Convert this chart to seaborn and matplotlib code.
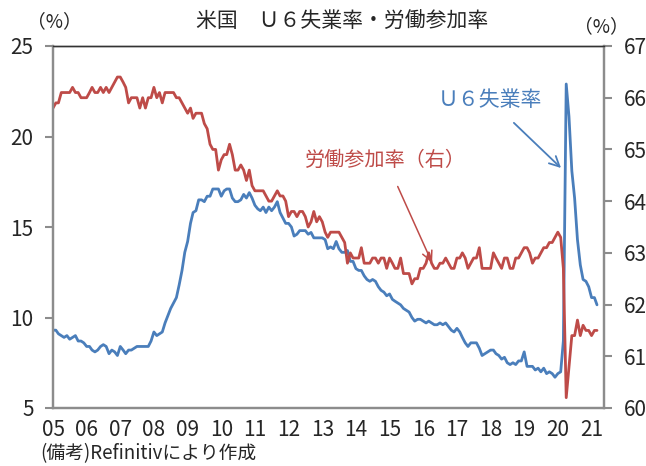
import matplotlib
matplotlib.use("Agg")
import matplotlib.pyplot as plt
import seaborn as sns
import numpy as np
import pandas as pd

# U6 unemployment rate (%), monthly from 2005-01, left axis
u6 = [9.3, 9.3, 9.1, 9.0, 8.9, 9.0, 8.8, 8.9, 9.0, 8.7, 8.7, 8.6,
      8.4, 8.4, 8.2, 8.1, 8.2, 8.4, 8.5, 8.4, 8.0, 8.2, 8.1, 7.9,
      8.4, 8.2, 8.0, 8.2, 8.2, 8.3, 8.4, 8.4, 8.4, 8.4, 8.4, 8.7,
      9.2, 9.0, 9.1, 9.2, 9.7, 10.1, 10.5, 10.8, 11.1, 11.8, 12.6, 13.6,
      14.2, 15.2, 15.8, 15.9, 16.5, 16.5, 16.4, 16.7, 16.7, 17.1, 17.1, 17.1,
      16.7, 17.0, 17.1, 17.1, 16.6, 16.4, 16.4, 16.5, 16.8, 16.6, 16.9, 16.6,
      16.2, 16.0, 15.9, 16.1, 15.8, 16.1, 15.9, 16.1, 16.4, 15.8, 15.5, 15.2,
      15.2, 15.0, 14.5, 14.6, 14.8, 14.8, 14.8, 14.6, 14.7, 14.4, 14.4, 14.4,
      14.4, 14.3, 13.8, 13.9, 13.8, 14.2, 13.8, 13.6, 13.6, 13.7, 13.1, 13.1,
      12.7, 12.6, 12.6, 12.3, 12.1, 12.0, 12.1, 12.0, 11.7, 11.5, 11.4, 11.2,
      11.3, 11.0, 10.9, 10.8, 10.7, 10.5, 10.4, 10.3, 10.0, 9.8, 9.9, 9.9,
      9.8, 9.7, 9.8, 9.7, 9.6, 9.6, 9.7, 9.6, 9.7, 9.5, 9.3, 9.2,
      9.4, 9.2, 8.9, 8.6, 8.4, 8.6, 8.6, 8.6, 8.3, 7.9, 8.0, 8.1,
      8.2, 8.2, 8.0, 7.9, 7.7, 7.8, 7.5, 7.4, 7.5, 7.4, 7.6, 7.6,
      8.1, 7.3, 7.3, 7.3, 7.1, 7.2, 7.0, 7.2, 6.9, 7.0, 6.9, 6.7,
      6.9, 7.0, 8.7, 22.9, 21.1, 18.1, 16.6, 14.3, 12.9, 12.1, 12.0, 11.7,
      11.1, 11.1, 10.7]

# labor force participation rate (%), right axis
lfpr = [65.8, 65.9, 65.9, 66.1, 66.1, 66.1, 66.1, 66.2, 66.1, 66.1, 66.0, 66.0,
        66.0, 66.1, 66.2, 66.1, 66.1, 66.2, 66.1, 66.2, 66.1, 66.2, 66.3, 66.4,
        66.4, 66.3, 66.2, 65.9, 66.0, 66.0, 66.0, 65.8, 66.0, 65.8, 66.0, 66.0,
        66.2, 66.0, 66.1, 65.9, 66.1, 66.1, 66.1, 66.1, 66.0, 66.0, 65.9, 65.8,
        65.7, 65.8, 65.6, 65.7, 65.7, 65.7, 65.5, 65.4, 65.1, 65.0, 65.0, 64.6,
        64.8, 64.9, 64.9, 65.1, 64.9, 64.6, 64.6, 64.7, 64.6, 64.4, 64.6, 64.3,
        64.2, 64.2, 64.2, 64.2, 64.1, 64.0, 64.0, 64.1, 64.2, 64.1, 64.1, 64.0,
        63.7, 63.8, 63.8, 63.7, 63.8, 63.8, 63.7, 63.5, 63.6, 63.8, 63.6, 63.7,
        63.6, 63.4, 63.3, 63.4, 63.4, 63.4, 63.4, 63.3, 63.2, 62.8, 63.0, 62.9,
        62.9, 62.9, 63.1, 62.8, 62.8, 62.8, 62.9, 62.9, 62.8, 62.9, 62.9, 62.7,
        62.9, 62.8, 62.7, 62.7, 62.9, 62.6, 62.6, 62.6, 62.4, 62.5, 62.5, 62.7,
        62.7, 62.8, 63.0, 62.8, 62.7, 62.7, 62.8, 62.8, 62.9, 62.8, 62.7, 62.7,
        62.9, 62.9, 63.0, 62.9, 62.7, 62.8, 62.9, 62.9, 63.1, 62.7, 62.7, 62.7,
        62.7, 63.0, 62.9, 62.8, 62.7, 62.9, 62.9, 62.7, 62.7, 62.9, 62.9, 63.0,
        63.1, 63.1, 63.0, 62.8, 62.9, 62.9, 63.0, 63.1, 63.1, 63.2, 63.2, 63.3,
        63.4, 63.3, 62.7, 60.2, 60.8, 61.4, 61.4, 61.7, 61.4, 61.6, 61.5, 61.5,
        61.4, 61.5, 61.5]

year_labels = ["05", "06", "07", "08", "09", "10", "11", "12", "13",
               "14", "15", "16", "17", "18", "19", "20", "21"]

months = pd.date_range("2005-01-01", periods=len(u6), freq="MS")
df = pd.DataFrame({"month": months, "u6": u6, "lfpr": lfpr})

sns.set_style("white")
plt.rcParams['font.family'] = ['Noto Sans CJK JP', 'DejaVu Sans']

blue = "#4a7ebb"
red = "#be4b48"
grey = "#8c8c8c"

fig = plt.figure(figsize=(6.46, 4.66), dpi=100)
ax = fig.add_axes([53/646, 1-408/466, 551/646, 362/466])
ax2 = ax.twinx()

sns.lineplot(data=df, x="month", y="u6", ax=ax, color=blue, linewidth=2.0)
sns.lineplot(data=df, x="month", y="lfpr", ax=ax2, color=red, linewidth=2.0)

ax.set_xlim(pd.Timestamp("2005-01-01"), pd.Timestamp("2021-05-16"))
ax.set_ylim(5, 25)
ax2.set_ylim(60, 67)
ax.set_yticks([5, 10, 15, 20, 25])
ax2.set_yticks(list(range(60, 68)))
ticks = pd.date_range("2005-01-01", periods=len(year_labels), freq="YS")
ax.set_xticks(ticks)
ax.set_xticklabels(year_labels)
for a in (ax, ax2):
    a.set_xlabel("")
    a.set_ylabel("")

ax.tick_params(axis="x", length=0, pad=8, labelsize=15)
ax.tick_params(axis="y", left=True, length=6, width=1.5, color=grey,
               direction="out", pad=8, labelsize=15)
ax2.tick_params(axis="y", right=True, length=6, width=1.5, color=grey,
                direction="out", pad=8, labelsize=15)

for a in (ax, ax2):
    for side in ("left", "right", "bottom"):
        a.spines[side].set_color(grey)
        a.spines[side].set_linewidth(1.6)
    a.spines["top"].set_color("#333333")
    a.spines["top"].set_linewidth(1.0)

# annotations
ax.annotate("Ｕ６失業率", xy=(0.922, 0.663), xytext=(0.793, 0.851),
            xycoords="axes fraction", textcoords="axes fraction",
            ha="center", va="center", fontsize=15, color=blue,
            arrowprops=dict(arrowstyle="->", color=blue, lw=1.3,
                            shrinkA=9, shrinkB=0, mutation_scale=18))
ax2.annotate("労働参加率（右）", xy=(0.688, 0.401), xytext=(0.604, 0.685),
             xycoords="axes fraction", textcoords="axes fraction",
             ha="center", va="center", fontsize=14.5, color=red,
             arrowprops=dict(arrowstyle="->", color=red, lw=1.1,
                             shrinkA=10, shrinkB=0, mutation_scale=18))

fig.text(342/646, 1-22/466, "米国　Ｕ６失業率・労働参加率", ha="center",
         va="center", fontsize=15)
fig.text(54/646, 1-22/466, "（%）", ha="center", va="center", fontsize=13.5)
fig.text(601/646, 1-27/466, "（%）", ha="center", va="center", fontsize=13.5)
fig.text(40/646, 1-454/466, "(備考)Refinitivにより作成", ha="left",
         va="center", fontsize=13.5)

fig.savefig("out.png", dpi=100)
